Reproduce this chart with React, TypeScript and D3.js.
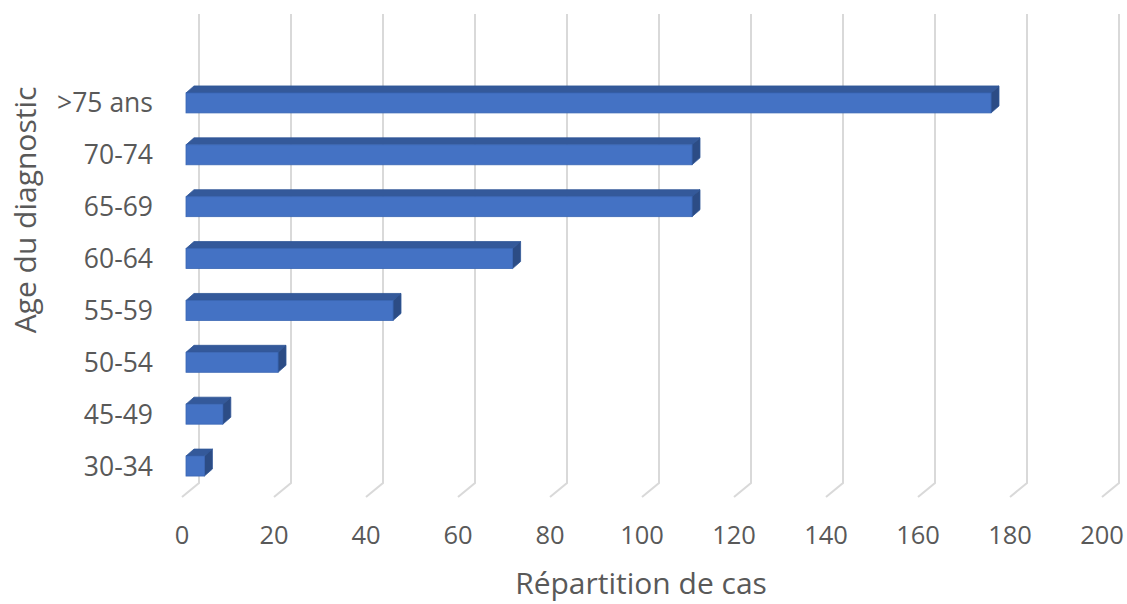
import React from "react";
import * as d3 from "d3";

const categories = ["30-34", "45-49", "50-54", "55-59", "60-64", "65-69", "70-74", ">75 ans"];
const values = [4, 8, 20, 45, 71, 110, 110, 175];
const xTicks = [0, 20, 40, 60, 80, 100, 120, 140, 160, 180, 200];
const xTitle = "Répartition de cas";
const yTitle = "Age du diagnostic";

const W = 1127;
const H = 604;
const FONT = "'Open Sans', 'Noto Sans', sans-serif";
const TEXT = "#595959";

export default function App() {
  const x = d3.scaleLinear().domain([0, 200]).range([0, 920]);
  const y = d3
    .scaleBand<string>()
    .domain([...categories].reverse())
    .range([77, 492])
    .paddingInner(0.615)
    .paddingOuter(0.3075);

  const backX = 199;
  const gridTop = 14;
  const gridBend = 483;
  const depthDx = -17;
  const depthDy = 14;
  const barX0 = 186;
  const dx = 8;
  const dy = 7;

  return (
    <svg width={W} height={H} style={{ position: "absolute", left: 0, top: 0, background: "#fff" }}>
      <rect x={0} y={0} width={W} height={H} fill="#fff" />
      {xTicks.map((t) => {
        const bx = backX + x(t);
        return (
          <polyline
            key={"g" + t}
            points={`${bx},${gridTop} ${bx},${gridBend} ${bx + depthDx},${gridBend + depthDy}`}
            fill="none"
            stroke="#D9D9D9"
            strokeWidth={2}
          />
        );
      })}
      {categories.map((c, i) => {
        const v = values[i];
        const y0 = y(c)!;
        const h = y.bandwidth();
        const x0 = barX0;
        const x1 = barX0 + x(v);
        return (
          <g key={"b" + c}>
            <polygon
              points={`${x0},${y0} ${x1},${y0} ${x1 + dx},${y0 - dy} ${x0 + dx},${y0 - dy}`}
              fill="#34599A"
              stroke="#2F5597"
              strokeWidth={0.8}
              strokeLinejoin="round"
            />
            <polygon
              points={`${x1},${y0} ${x1 + dx},${y0 - dy} ${x1 + dx},${y0 + h - dy} ${x1},${y0 + h}`}
              fill="#2C4C85"
              stroke="#2F5597"
              strokeWidth={0.8}
              strokeLinejoin="round"
            />
            <rect x={x0} y={y0} width={x1 - x0} height={h} fill="#4472C4" stroke="#3A66B4" strokeWidth={0.8} />
          </g>
        );
      })}
      {categories.map((c) => (
        <text
          key={"l" + c}
          x={153}
          y={y(c)! + y.bandwidth() / 2}
          dy="0.36em"
          textAnchor="end"
          fontFamily={FONT}
          fontSize={26.5}
          fill={TEXT}
        >
          {c}
        </text>
      ))}
      {xTicks.map((t) => (
        <text
          key={"t" + t}
          x={backX + depthDx + x(t)}
          y={544}
          textAnchor="middle"
          fontFamily={FONT}
          fontSize={25.5}
          fill={TEXT}
        >
          {t}
        </text>
      ))}
      <text x={641} y={594} textAnchor="middle" fontFamily={FONT} fontSize={30} fill={TEXT}>
        {xTitle}
      </text>
      <text
        transform={`translate(36,210) rotate(-90)`}
        textAnchor="middle"
        fontFamily={FONT}
        fontSize={30}
        fill={TEXT}
      >
        {yTitle}
      </text>
    </svg>
  );
}
